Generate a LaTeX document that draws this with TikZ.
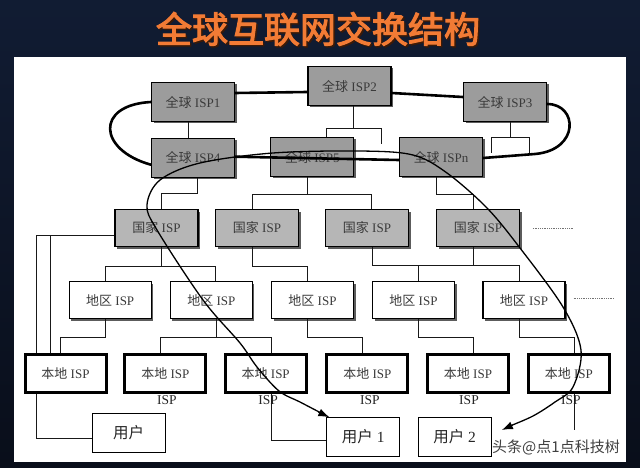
\documentclass[tikz,border=0pt]{standalone}
\usepackage{fontspec}
\setmainfont{Liberation Serif}
\newfontfamily\cjk{Noto Sans CJK SC}
\newfontfamily\titlefont{Noto Sans CJK SC}[FakeBold=3]
\usetikzlibrary{arrows.meta,shadows}
\definecolor{bgtop}{HTML}{111C33}
\definecolor{bgbot}{HTML}{090E1A}
\definecolor{titleorange}{HTML}{F27B35}
\definecolor{titleshade}{HTML}{3B1A08}
\definecolor{gfill}{HTML}{9C9C9C}
\definecolor{cfill}{HTML}{B6B6B6}
\definecolor{txt}{HTML}{3A3A3A}
\newcommand{\zh}[1]{{\cjk #1}}
\tikzset{
  boxbase/.style={draw=black, inner sep=0pt, text=txt, font=\fontsize{13}{15}\selectfont},
  gbox/.style={boxbase, fill=gfill, line width=1.3pt, minimum width=83pt, minimum height=39pt,
    drop shadow={shadow xshift=2pt, shadow yshift=-2pt, fill=black!75, opacity=0.85}},
  cbox/.style={boxbase, fill=cfill, line width=1.2pt, minimum width=83pt, minimum height=37pt,
    drop shadow={shadow xshift=2pt, shadow yshift=-2pt, fill=black!75, opacity=0.85}},
  rbox/.style={boxbase, fill=white, line width=1.3pt, minimum width=82pt, minimum height=37pt,
    drop shadow={shadow xshift=2pt, shadow yshift=-2pt, fill=black!75, opacity=0.85}},
  lbox/.style={boxbase, fill=white, line width=3pt, minimum width=81pt, minimum height=38pt},
  ubox/.style={draw=black, fill=white, line width=0.9pt, inner sep=0pt, text=black!85,
    font=\fontsize{15.5}{17}\selectfont, minimum width=73pt, minimum height=39pt},
  isplab/.style={inner sep=0pt, text=black!85, font=\fontsize{13.5}{15}\selectfont},
  wire/.style={line width=0.9pt, draw=black!90},
  ring/.style={line width=2.6pt, draw=black, line cap=round},
  route/.style={line width=1.3pt, draw=black},
  routetip/.style={line width=1pt, draw=black, -{Latex[length=11pt,width=8pt]}},
  dotline/.style={densely dotted, line width=0.8pt, draw=black!55},
}
\begin{document}
\begin{tikzpicture}[x=1pt,y=-1pt]
\useasboundingbox (0,0) rectangle (640,468);
\shade[top color=bgtop, bottom color=bgbot] (0,0) rectangle (640,468);
\fill[white] (14,57) rectangle (626,462);

% title
\node[font=\titlefont\fontsize{36}{40}\selectfont, text=titleshade] (titleshadow) at (319.5,30.5) {全球互联网交换结构};
\node[font=\titlefont\fontsize{36}{40}\selectfont, text=titleorange] (title) at (318,29) {全球互联网交换结构};

% global ISPs
\node[gbox] (g1) at (193,102) {\zh{全球} ISP1};
\node[gbox] (g2) at (349.5,86) {\zh{全球} ISP2};
\node[gbox] (g3) at (505,102) {\zh{全球} ISP3};
\node[gbox] (g4) at (193,157.7) {\zh{全球} ISP4};
\node[gbox] (g5) at (312.3,157) {\zh{全球} ISP5};
\node[gbox] (gn) at (441,157) {\zh{全球} ISPn};

% national ISPs
\node[cbox] (c1) at (156.5,228) {\zh{国家} ISP};
\node[cbox] (c2) at (257,228) {\zh{国家} ISP};
\node[cbox] (c3) at (367,228) {\zh{国家} ISP};
\node[cbox] (c4) at (478,228) {\zh{国家} ISP};

% regional ISPs
\node[rbox] (r1) at (110.2,300) {\zh{地区} ISP};
\node[rbox] (r2) at (211.4,300) {\zh{地区} ISP};
\node[rbox] (r3) at (312.5,300) {\zh{地区} ISP};
\node[rbox] (r4) at (413.5,300) {\zh{地区} ISP};
\node[rbox] (r5) at (524,300) {\zh{地区} ISP};

% connectors (drawn before local boxes)
\draw[wire] ([xshift=-5pt]g1.south) -- ([xshift=-5pt]g4.north);
\draw[wire] ([xshift=3.5pt]g2.south) -- ++(0,23);
\draw[wire] ([xshift=13.7pt]g5.north) -- ++(0,-8.7) -- ++(55.7,0) -- ++(0,16);
\draw[wire] ([xshift=5pt]g3.south) -- ++(0,15.7);
\coordinate (g3l) at (491,153);
\draw[wire] (g3l) -- ++(0,-15.3) -- ++(38,0) -- ++(0,15.3);
\draw[wire] ([xshift=4.7pt]g4.south) -- ++(0,15.6) -| ([xshift=4.5pt]c1.north);
\draw[wire] ([xshift=-5.3pt]g5.south) -- ++(0,17) coordinate (j5);
\draw[wire] ([xshift=-5pt]c2.north) |- (j5) -| ([xshift=4.4pt]c3.north);
\draw[wire] ([xshift=-4.3pt]gn.south) -- ++(0,17) -| ([xshift=-4.7pt]c4.north);

\draw[wire] ([xshift=4.5pt]c1.south) -- ++(0,19) coordinate (k1);
\draw[wire] ([xshift=-5pt]r1.north) |- (k1) -| ([xshift=4pt]r2.north);
\draw[wire] ([xshift=-5pt]c2.south) -- ++(0,19) -| ([xshift=-4.7pt]r3.north);
\draw[wire] ([xshift=5pt]c3.south) -- ++(0,18) -| ([xshift=-5pt]r5.north);
\draw[wire] ([xshift=-5pt]c4.south) -- ++(0,18);
\draw[wire] ([xshift=4.8pt]r4.north) -- ++(0,-16);

% local ISPs
\node[lbox] (l1) at (65.5,373.3) {\zh{本地} ISP};
\node[lbox] (l2) at (165.3,373.3) {\zh{本地} ISP};
\node[lbox] (l3) at (265.7,373.3) {\zh{本地} ISP};
\node[lbox] (l4) at (367.3,373.3) {\zh{本地} ISP};
\node[lbox] (l5) at (468,373.3) {\zh{本地} ISP};
\node[lbox] (l6) at (568.8,373.3) {\zh{本地} ISP};

\node[isplab] (s2) at ([xshift=1.5pt,yshift=-6.5pt]l2.south) {ISP};
\node[isplab] (s3) at ([xshift=2.5pt,yshift=-6.5pt]l3.south) {ISP};
\node[isplab] (s4) at ([xshift=2.5pt,yshift=-6.5pt]l4.south) {ISP};
\node[isplab] (s5) at ([xshift=1pt,yshift=-6.5pt]l5.south) {ISP};
\node[isplab] (s6) at ([xshift=2pt,yshift=-6.5pt]l6.south) {ISP};

% users
\node[ubox] (u0) at (128.6,432.7) {\zh{用户}};
\node[ubox] (u1) at (363.3,436.6) {\zh{用户} 1};
\node[ubox] (u2) at (454.6,437) {\zh{用户} 2};

\draw[wire] ([yshift=-7pt]c1.west) -| ([xshift=-28.8pt]l1.north);
\draw[wire] ([xshift=-14.8pt]l1.north) |- ([yshift=-7pt]c1.west);
\draw[wire] ([xshift=-4.5pt]r1.south) -- ++(0,18) -| ([xshift=-5.5pt]l1.north);
\draw[wire] ([xshift=4.6pt]r2.south) -- ++(0,18) coordinate (k2);
\draw[wire] ([xshift=-4.6pt]l2.north) |- (k2) -| ([xshift=5.3pt]l3.north);
\draw[wire] ([xshift=-5pt]r3.south) -- ++(0,18) -| ([xshift=-4.8pt]l4.north);
\draw[wire] ([xshift=4.8pt]r4.south) -- ++(0,18.5) -| ([xshift=5.3pt]l5.north);
\draw[wire] ([xshift=-5pt]r5.south) -- ++(0,18.5) -| ([xshift=6pt]l6.north);
\draw[wire] ([xshift=-28.8pt]l1.south) |- ([yshift=-5.6pt]u0.west);
\draw[wire] ([xshift=5.3pt]l3.south) |- ([yshift=-4pt]u1.west);
\draw[wire] ([xshift=5.2pt]l6.south) -- ++(0,36) coordinate (l6end);

% dotted continuation marks
\draw[dotline] ([xshift=12.7pt]c4.east) -- ++(41,0);
\draw[dotline] ([xshift=8pt,yshift=1.7pt]r5.east) -- ++(40.5,0);

% backbone ring
\draw[ring] ([yshift=9pt]g1.east) -- ([yshift=-6pt]g2.west);
\draw[ring] ([yshift=-7pt]g2.east) -- ([yshift=5pt]g3.west);
\draw[ring] ([yshift=-2pt]g3.east) .. controls (578,104) and (580,150) .. (535,154) -- ([yshift=-1pt]gn.east);
\draw[ring] ([yshift=1pt]g4.east) -- ([yshift=-3pt]gn.west);
\draw[ring] ([yshift=-7pt]g4.west) .. controls (98,150) and (95,105) .. (g1.west);

% route between users
\coordinate (a1) at ([xshift=3pt,yshift=-0.5pt]u1.north west);
\coordinate (a2) at ([xshift=10.3pt,yshift=7pt]u2.east);
\draw[route] plot[smooth, tension=0.55] coordinates {([xshift=-8pt,yshift=4pt]a1) (300,402) (279,391) (257,367) (240,343) (203,300) (157,230) (147,205) (160,180) (200,163) (273,153) (360,151) (413,155) (447,173) (487,208) (520,248) (563,307) (581,350) (573,387) (555,402) (533,416) ([xshift=8pt,yshift=4pt]a2)};
\draw[routetip] ([xshift=-11pt,yshift=5pt]a1) -- (a1);
\draw[routetip] ([xshift=11pt,yshift=5pt]a2) -- (a2);

% watermark
\node[font=\cjk\fontsize{15}{15}\selectfont, text=black!75] (wm) at (556,447) {头条@点1点科技树};
\end{tikzpicture}
\end{document}
